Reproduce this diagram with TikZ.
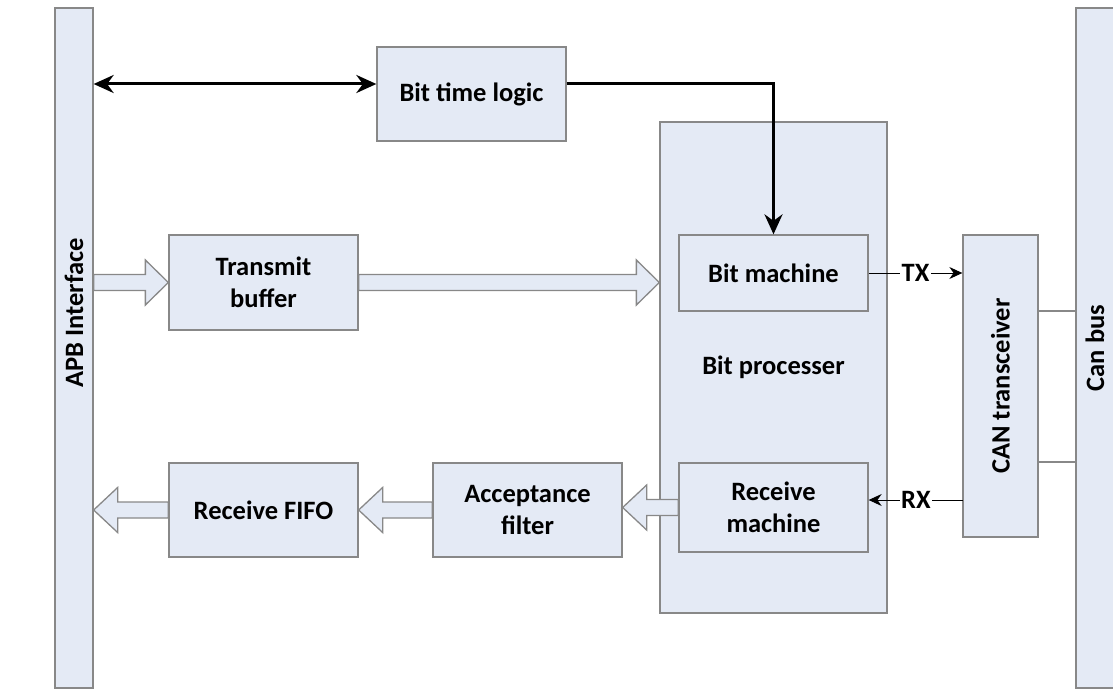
\documentclass[tikz,border=0pt]{standalone}
\usepackage{fontspec}
\setmainfont{Carlito}
\usetikzlibrary{arrows.meta,calc}
\definecolor{canfill}{RGB}{228,234,245}
\definecolor{canline}{RGB}{136,136,136}
\tikzset{canfont/.style={font=\fontsize{26.5}{32}\selectfont\bfseries},
         canbox/.style={canfont,draw=canline,fill=canfill,line width=1.3pt,inner sep=0pt,align=center},
         canbar/.style={canbox,minimum width=38pt,minimum height=680pt},
         canlab/.style={canfont,fill=white,inner sep=1.5pt},
         cansig/.style={line width=1pt,-{Stealth[length=13pt,width=12pt]}},
         canctl/.style={line width=3pt,{Stealth[length=20pt,width=18pt]}-{Stealth[length=20pt,width=18pt]}},
         canfat/.style={draw=canline,fill=canfill,line width=1.3pt},
         canwire/.style={draw=canline,line width=1.3pt}}
% fat arrow: tail, tip, signed head length
\newcommand\canfatarrow[3]{%
  \coordinate (ft) at (#2 |- #1);
  \draw[canfat] ($(#1)+(0,-8)$) -- ($(ft)+(#3,-8)$) -- ($(ft)+(#3,-22.5)$) -- (ft)
    -- ($(ft)+(#3,22.5)$) -- ($(ft)+(#3,8)$) -- ($(#1)+(0,8)$) -- cycle;}

\begin{document}
\begin{tikzpicture}[x=1pt,y=-1pt]
    \useasboundingbox (0,0) rectangle (1113,690);
    \node[canbar] (apb) at (74,348) {};
    \node[canbar] (cb) at (1095,348) {};
    \node[canfont,rotate=90] (apblab) at (74,313) {APB Interface};
    \node[canfont,rotate=90] (cblab) at (1095,348) {Can bus};
    \node[canbox,minimum width=227pt,minimum height=491pt] (bp) at (773.5,367.5) {Bit processer};
    \foreach \n/\x/\y/\w/\h/\t in {btl/471.5/94/189/94/Bit time logic,
        tb/263.5/282.5/189/95/Transmit\\buffer, rf/263.5/510/189/94/Receive FIFO,
        af/527.5/510/189/94/Acceptance\\filter, bm/773.5/273/189/76/Bit machine,
        rm/773.5/507.5/189/89/Receive\\machine}
      {\node[canbox,minimum width=\w pt,minimum height=\h pt] (\n) at (\x,\y) {\t};}
    \node[canbox,minimum width=75pt,minimum height=302pt] (ct) at (1000.5,386) {};
    \node[canfont,rotate=90] (ctlab) at (ct) {CAN transceiver};
    % control path
    \coordinate (btlin) at ([yshift=10pt]btl.west);
    \draw[canctl] (apb.east |- btlin) -- (btlin);
    \draw[line width=3pt,-{Stealth[length=20pt,width=18pt]}] (btlin -| btl.east) -- (bm.north |- btlin) -- (bm.north);
    % data path
    \coordinate (apbtx) at (apb.east |- tb.west);
    \canfatarrow{apbtx}{tb.west}{-23}
    \canfatarrow{tb.east}{bp.west}{-23}
    \canfatarrow{rm.west}{af.east}{24}
    \canfatarrow{af.west}{rf.east}{24}
    \canfatarrow{rf.west}{apb.east}{24}
    % serial lines
    \draw[cansig] (bm.east) -- node[canlab] {TX} (bm.east -| ct.west);
    \coordinate (rxin) at (963,500);
    \draw[cansig] (rxin) -- node[canlab] {RX} (rxin -| rm.east);
    \foreach \y in {311,462}
      \draw[canwire] (ct.east |- 0,\y) -- (cb.west |- 0,\y);
\end{tikzpicture}
\end{document}
